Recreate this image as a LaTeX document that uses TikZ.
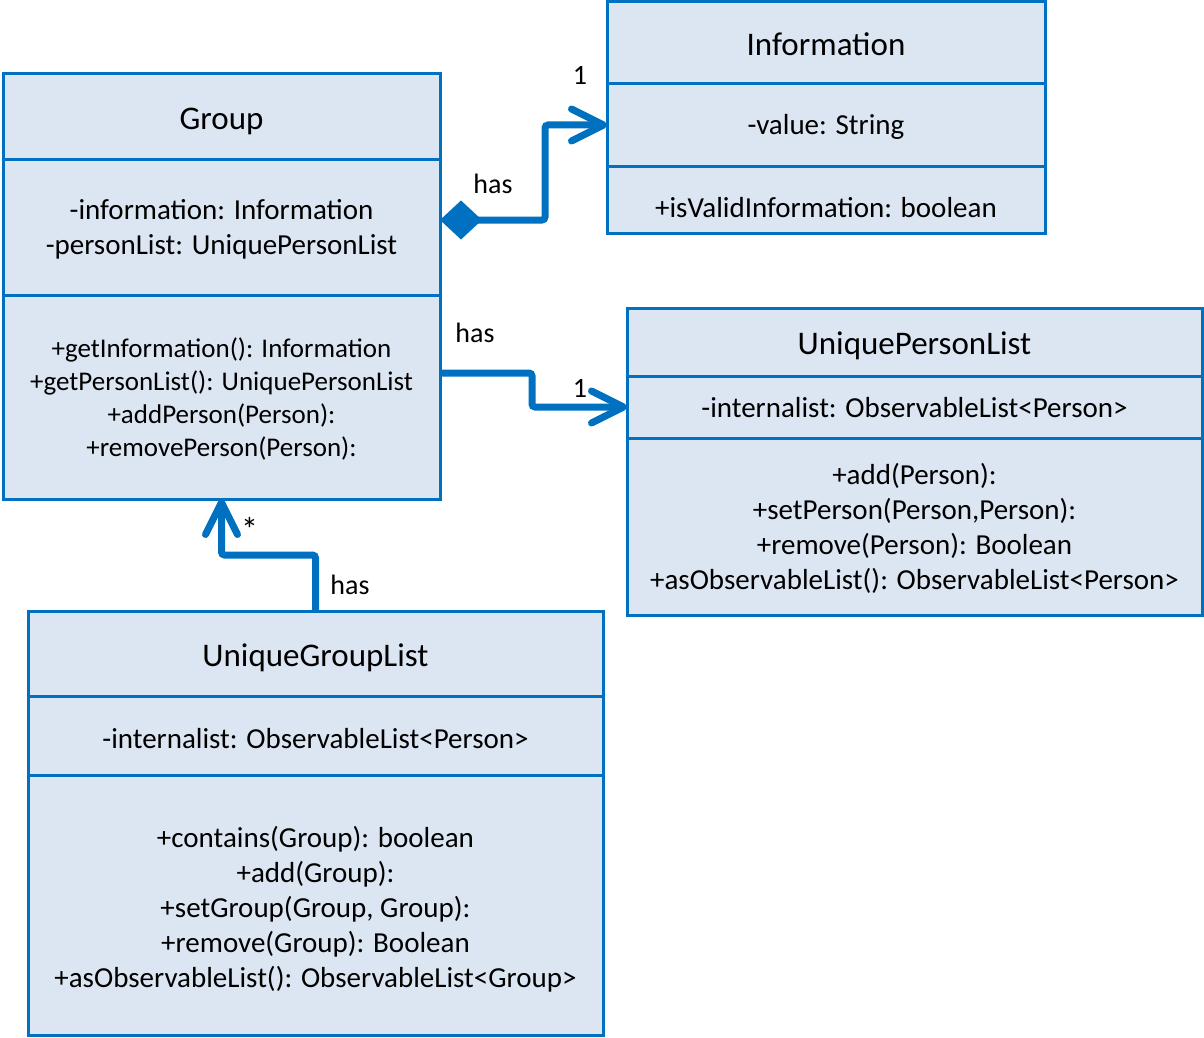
\documentclass[tikz,border=0pt]{standalone}
\usepackage{fontspec}
\setmainfont{Carlito}
\usetikzlibrary{arrows.meta,calc}
\definecolor{umlblue}{HTML}{0070C0}
\definecolor{umlfill}{HTML}{DCE6F2}
\begin{document}
\begin{tikzpicture}[x=1pt,y=-1pt,
  comp/.style={draw=umlblue, fill=umlfill, line width=3pt, inner sep=0pt, outer sep=0pt},
  ttl/.style={align=center, inner sep=0pt, yshift=-5pt, font=\fontsize{33}{38}\selectfont},
  body/.style={align=center, inner sep=0pt, yshift=-3pt, font=\fontsize{29}{35}\selectfont},
  lbl/.style={font=\fontsize{28}{32}\selectfont, inner sep=0pt},
  conn/.style={draw=umlblue, line width=7pt, rounded corners=3pt},
  barb/.tip={Straight Barb[length=32pt,width=32pt,round,line width=7pt]},
  dia/.tip={Diamond[length=42pt,width=39pt,line width=0pt]}]
\useasboundingbox (0,0) rectangle (1204,1038);

% Group
\node[comp, minimum width=437pt, minimum height=85pt]  (grpT) at (221.5,116.5) {};
\node[comp, minimum width=437pt, minimum height=136pt] (grpA) at (221.5,227) {};
\node[comp, minimum width=437pt, minimum height=204pt] (grpM) at (221.5,397) {};
\node[ttl]  (grpTt) at (grpT.center) {\strut Group};
\node[body] (grpAt) at (grpA.center)
  {\strut -information: Information\\-personList: UniquePersonList\strut};
\node[body, font=\fontsize{27}{33}\selectfont] (grpMt) at (grpM.center)
  {\strut +getInformation(): Information\\+getPersonList(): UniquePersonList\\+addPerson(Person):\\+removePerson(Person):\strut};

% Information
\node[comp, minimum width=438pt, minimum height=82pt] (infT) at (826,43) {};
\node[comp, minimum width=438pt, minimum height=82pt] (infA) at (826,125) {};
\node[comp, minimum width=438pt, minimum height=67pt] (infM) at (826,199.5) {};
\node[ttl]  (infTt) at (infT.center) {\strut Information};
\node[body] (infAt) at (infA.center) {\strut -value: String};
\node[body] (infMt) at ([yshift=-8pt]infM.center) {\strut +isValidInformation: boolean};

% UniquePersonList
\node[comp, minimum width=575pt, minimum height=68pt]  (uplT) at (914.5,342) {};
\node[comp, minimum width=575pt, minimum height=62pt]  (uplA) at (914.5,407) {};
\node[comp, minimum width=575pt, minimum height=177pt] (uplM) at (914.5,526.5) {};
\node[ttl]  (uplTt) at (uplT.center) {\strut UniquePersonList};
\node[body] (uplAt) at (uplA.center) {\strut -internalist: ObservableList<Person>};
\node[body] (uplMt) at (uplM.center)
  {\strut +add(Person):\\+setPerson(Person,Person):\\+remove(Person): Boolean\\+asObservableList(): ObservableList<Person>\strut};

% UniqueGroupList
\node[comp, minimum width=575pt, minimum height=85pt]  (uglT) at (315.5,653.5) {};
\node[comp, minimum width=575pt, minimum height=79pt]  (uglA) at (315.5,735.5) {};
\node[comp, minimum width=575pt, minimum height=260pt] (uglM) at (315.5,905) {};
\node[ttl]  (uglTt) at (uglT.center) {\strut UniqueGroupList};
\node[body] (uglAt) at ([yshift=-3pt]uglA.center) {\strut -internalist: ObservableList<Person>};
\node[body] (uglMt) at ([yshift=-2pt]uglM.center)
  {\strut +contains(Group): boolean\\+add(Group):\\+setGroup(Group, Group):\\+remove(Group): Boolean\\+asObservableList(): ObservableList<Group>\strut};

% associations
\draw[conn, dia-barb] ([yshift=7pt]grpA.east) -- ++(105,0) |- (infA.west);
\draw[conn, -barb] ([yshift=24pt]grpM.east) -- ++(92,0) |- (uplA.west);
\draw[conn, -barb] (uglT.north) -- ++(0,-56) -| (grpM.south);

% multiplicities and roles
\node[lbl] (l1) at (493,184) {has};
\node[lbl] (m1) at (580,75) {1};
\node[lbl] (l2) at (475,333) {has};
\node[lbl] (m2) at (580,388) {1};
\node[lbl, font=\fontsize{34}{38}\selectfont] (m3) at (249.5,529) {*};
\node[lbl] (l3) at (350,585) {has};
\end{tikzpicture}
\end{document}
